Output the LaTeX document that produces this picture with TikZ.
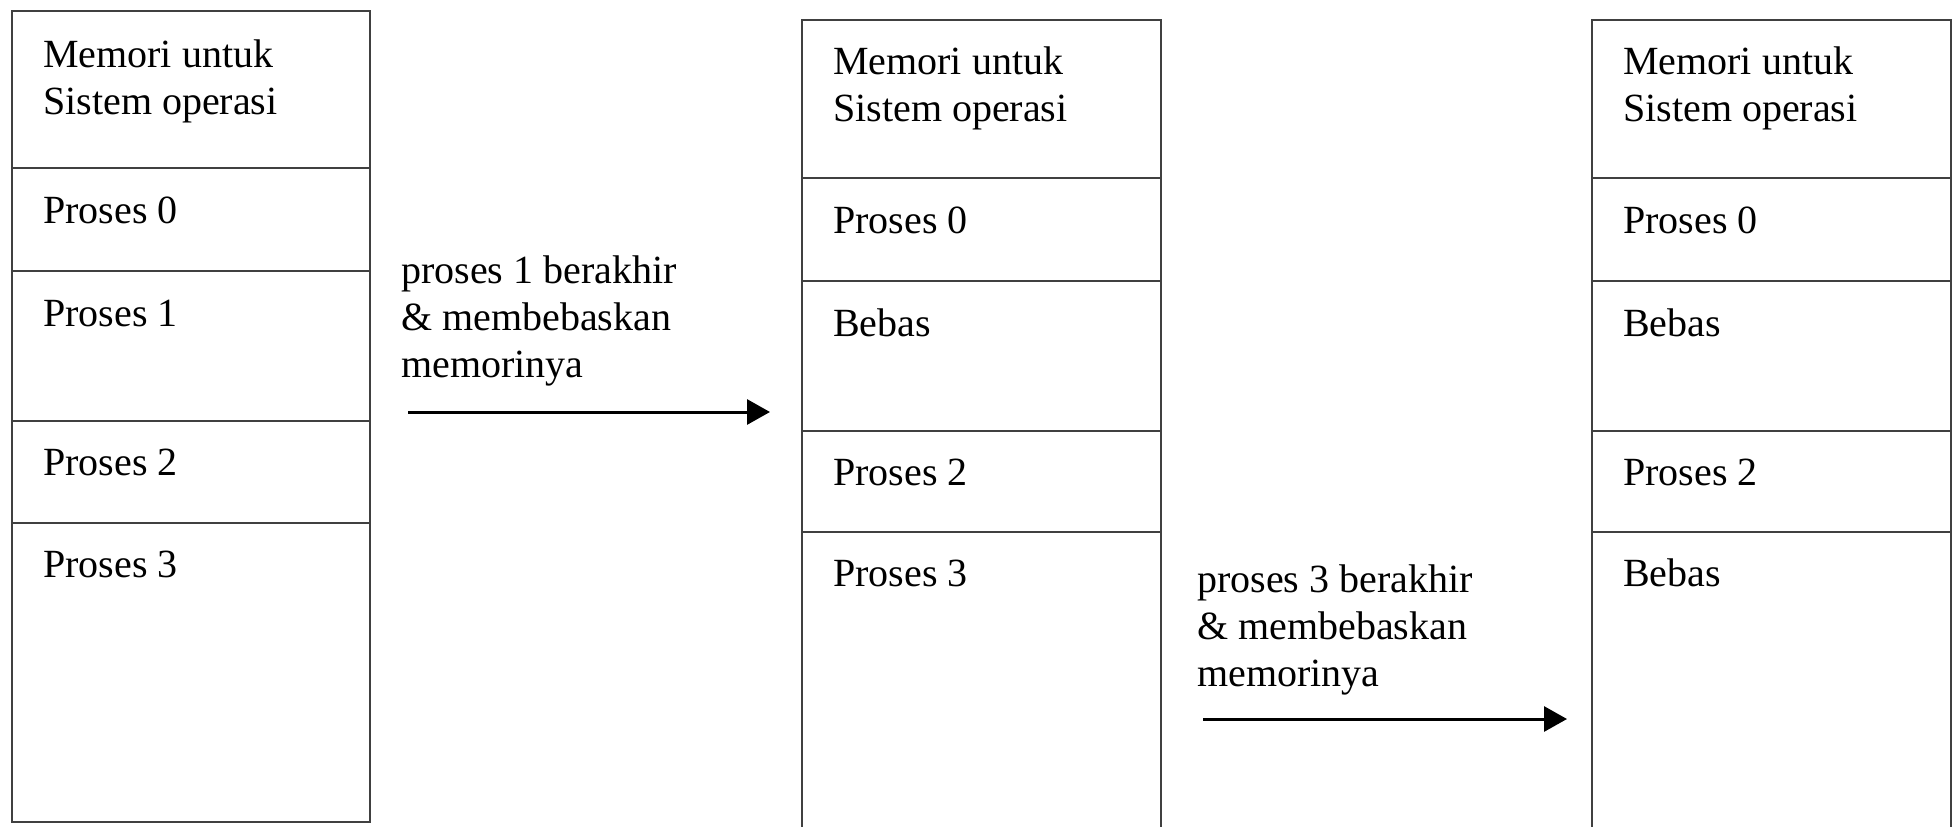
\documentclass[tikz,border=0pt]{standalone}
\usepackage{fontspec}
\setmainfont{Liberation Serif}
\usetikzlibrary{arrows.meta,calc}
\begin{document}
\begin{tikzpicture}[x=1pt,y=-1pt,
  sect/.style={draw=black!75, line width=2.5pt, inner sep=0pt, outer sep=0pt,
    anchor=north west, minimum width=#1},
  sect/.default=358pt,
  lbl/.style={anchor=base west, inner sep=0pt, align=left,
    font=\fontsize{40}{47}\selectfont},
  flow/.style={line width=3pt, -{Triangle[length=23pt,width=25pt]}}]
\clip (0,0) rectangle (1957,827);
% column 1
\node[sect, minimum height=157pt] (c1a) at (12,11) {};
\node[sect, minimum height=103pt] (c1b) at (12,168) {};
\node[sect, minimum height=150pt] (c1c) at (12,271) {};
\node[sect, minimum height=102pt] (c1d) at (12,421) {};
\node[sect, minimum height=299pt] (c1e) at (12,523) {};
\node[lbl] at ($(c1a.north west)+(31,103)$) {Memori untuk\\Sistem operasi};
\node[lbl] at ($(c1b.north west)+(31,55)$) {Proses 0};
\node[lbl] at ($(c1c.north west)+(31,55)$) {Proses 1};
\node[lbl] at ($(c1d.north west)+(31,54)$) {Proses 2};
\node[lbl] at ($(c1e.north west)+(31,54)$) {Proses 3};
% column 2
\node[sect=359pt, minimum height=158pt] (c2a) at (802,20) {};
\node[sect=359pt, minimum height=103pt] (c2b) at (802,178) {};
\node[sect=359pt, minimum height=150pt] (c2c) at (802,281) {};
\node[sect=359pt, minimum height=101pt] (c2d) at (802,431) {};
\node[sect=359pt, minimum height=340pt] (c2e) at (802,532) {};
\node[lbl] at ($(c2a.north west)+(31,101)$) {Memori untuk\\Sistem operasi};
\node[lbl] at ($(c2b.north west)+(31,55)$) {Proses 0};
\node[lbl] at ($(c2c.north west)+(31,55)$) {Bebas};
\node[lbl] at ($(c2d.north west)+(31,54)$) {Proses 2};
\node[lbl] at ($(c2e.north west)+(31,54)$) {Proses 3};
% column 3
\node[sect=359pt, minimum height=158pt] (c3a) at (1592,20) {};
\node[sect=359pt, minimum height=103pt] (c3b) at (1592,178) {};
\node[sect=359pt, minimum height=150pt] (c3c) at (1592,281) {};
\node[sect=359pt, minimum height=101pt] (c3d) at (1592,431) {};
\node[sect=359pt, minimum height=340pt] (c3e) at (1592,532) {};
\node[lbl] at ($(c3a.north west)+(31,101)$) {Memori untuk\\Sistem operasi};
\node[lbl] at ($(c3b.north west)+(31,55)$) {Proses 0};
\node[lbl] at ($(c3c.north west)+(31,55)$) {Bebas};
\node[lbl] at ($(c3d.north west)+(31,54)$) {Proses 2};
\node[lbl] at ($(c3e.north west)+(31,54)$) {Bebas};
% transitions
\node[lbl] (t1) at (401,377) {proses 1 berakhir\\\& membebaskan\\memorinya};
\coordinate (a1s) at (408,412);
\coordinate (a1e) at (770,412);
\draw[flow] (a1s) -- (a1e);
\node[lbl] (t2) at (1197,686) {proses 3 berakhir\\\& membebaskan\\memorinya};
\coordinate (a2s) at (1203,719);
\coordinate (a2e) at (1567,719);
\draw[flow] (a2s) -- (a2e);
\end{tikzpicture}
\end{document}
